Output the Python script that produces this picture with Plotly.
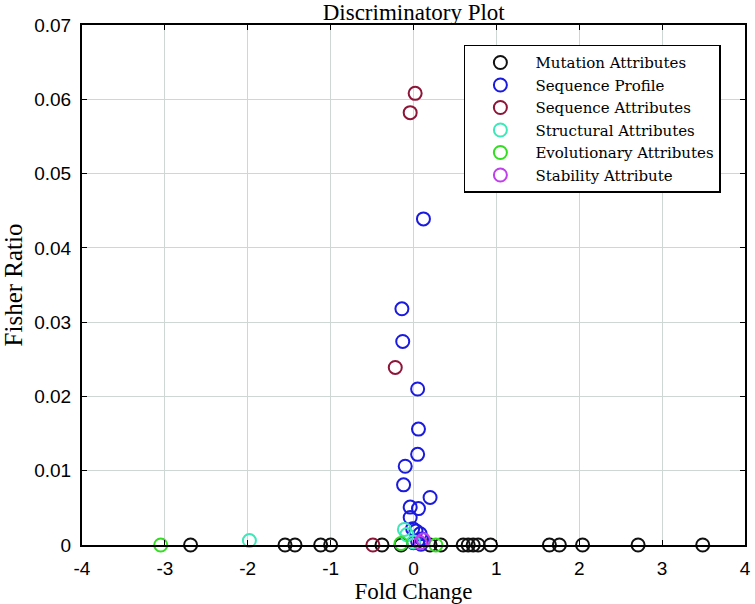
import plotly.graph_objects as go

# 각 속성 그룹별 (Fold Change, Fisher Ratio) 값
mutation_x = [-2.69, -1.55, -1.43, -1.12, -1.0, -0.38, -0.15, 0.2, 0.33,
              0.6, 0.66, 0.72, 0.78, 0.93, 1.64, 1.76, 2.04, 2.71, 3.49]
mutation_y = [0.0] * len(mutation_x)

seq_profile_x = [0.12, -0.14, -0.13, 0.05, 0.06, 0.05, -0.1, -0.12, 0.2, -0.04,
                 0.06, -0.04, -0.01, 0.03, 0.08, 0.1, 0.05, 0.0, 0.09]
seq_profile_y = [0.0439, 0.0318, 0.0274, 0.021, 0.0156, 0.0122, 0.0106, 0.0081,
                 0.0064, 0.0051, 0.0049, 0.0037, 0.0022, 0.0019, 0.0015, 0.0008,
                 0.0005, 0.0003, 0.0001]

seq_attr_x = [0.02, -0.04, -0.22, -0.49]
seq_attr_y = [0.0608, 0.0582, 0.0239, 0.0]

structural_x = [-1.98, -0.11, -0.08, 0.0]
structural_y = [0.0006, 0.0021, 0.0014, 0.0004]

evolutionary_x = [-3.05, -0.15, 0.27]
evolutionary_y = [0.0, 0.0002, 0.0]

stability_x = [0.12, 0.08]
stability_y = [0.0007, 0.0003]

x_ticks = [-4, -3, -2, -1, 0, 1, 2, 3, 4]
x_tick_text = ["-4", "-3", "-2", "-1", "0", "1", "2", "3", "4"]
y_ticks = [0, 0.01, 0.02, 0.03, 0.04, 0.05, 0.06, 0.07]
y_tick_text = ["0", "0.01", "0.02", "0.03", "0.04", "0.05", "0.06", "0.07"]

SERIF = "Liberation Serif, Times New Roman, serif"
SANS = "Liberation Sans, Arial, sans-serif"

groups = [
    ("Mutation Attributes", mutation_x, mutation_y, "#111111"),
    ("Sequence Profile", seq_profile_x, seq_profile_y, "#1a1ae0"),
    ("Sequence Attributes", seq_attr_x, seq_attr_y, "#8c1538"),
    ("Structural Attributes", structural_x, structural_y, "#3ee8b8"),
    ("Evolutionary Attributes", evolutionary_x, evolutionary_y, "#33dd22"),
    ("Stability Attribute", stability_x, stability_y, "#c040ee"),
]

fig = go.Figure()
for name, xs, ys, color in groups:
    fig.add_trace(
        go.Scatter(
            x=xs,
            y=ys,
            mode="markers",
            name=name,
            marker={
                "symbol": "circle-open",
                "size": 13,
                "color": color,
                "line": {"width": 2, "color": color},
            },
            cliponaxis=False,
        )
    )

axis_common = {
    "showgrid": True,
    "gridcolor": "#cfd7d4",
    "gridwidth": 1,
    "zeroline": False,
    "showline": True,
    "linecolor": "black",
    "linewidth": 2,
    "mirror": "ticks",
    "ticks": "inside",
    "ticklen": 5,
    "tickcolor": "black",
    "automargin": False,
    "tickfont": {"family": SANS, "size": 19, "color": "black"},
}

fig.update_layout(
    width=755,
    height=604,
    margin={"l": 82, "r": 10, "t": 25, "b": 59},
    paper_bgcolor="white",
    plot_bgcolor="white",
    title={
        "text": "Discriminatory Plot",
        "font": {"family": SERIF, "size": 23, "color": "black"},
        "x": 0.548,
        "xanchor": "center",
        "y": 0.980,
        "yanchor": "middle",
    },
    xaxis={
        **axis_common,
        "range": [-4, 4],
        "tickvals": x_ticks,
        "ticktext": x_tick_text,
        "ticklabelstandoff": 5,
        "title": {"text": "Fold Change", "font": {"family": SERIF, "size": 23, "color": "black"},
                  "standoff": 0},
    },
    yaxis={
        **axis_common,
        "range": [0, 0.07],
        "tickvals": y_ticks,
        "ticktext": y_tick_text,
        "ticklabelstandoff": 5,
        "title": {"text": "Fisher Ratio", "font": {"family": SERIF, "size": 25, "color": "black"},
                  "standoff": 6},
    },
    legend={
        "x": 0.576,
        "y": 0.962,
        "xanchor": "left",
        "yanchor": "top",
        "bgcolor": "white",
        "bordercolor": "black",
        "borderwidth": 1.5,
        "font": {"family": "DejaVu Serif, serif", "size": 15, "color": "black"},
        "itemwidth": 60,
        "tracegroupgap": 0,
    },
    showlegend=True,
)

# 브라우저 기본 body 여백(8px)을 없애 그림이 창 원점에 붙도록 한다
fig.write_html(
    "out.html",
    config={"displayModeBar": False},
    post_script="document.body.style.margin = '0';",
)
